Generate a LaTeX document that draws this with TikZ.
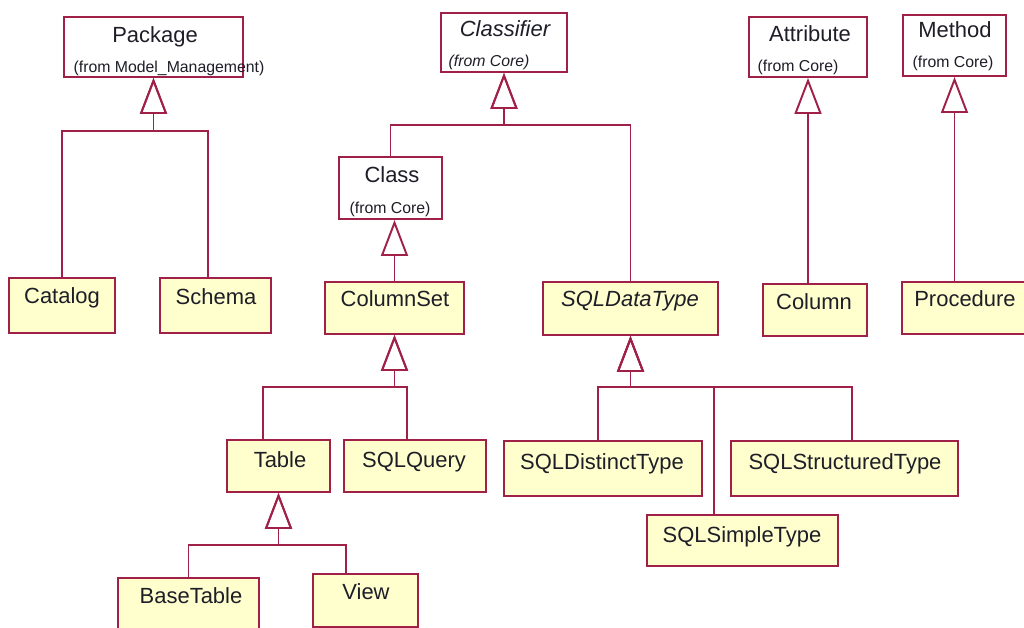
\documentclass[tikz,border=0pt]{standalone}
\usepackage{fontspec}
\setmainfont{Liberation Sans}
\usetikzlibrary{arrows.meta,fit}

\definecolor{umlline}{RGB}{160,32,72}
\definecolor{umlfill}{RGB}{255,255,206}
\definecolor{umltext}{RGB}{30,30,40}

\begin{document}
\begin{tikzpicture}[x=0.02cm,y=-0.02cm,
  classbox/.style={draw=umlline, line width=1.1pt, inner sep=0pt, fill=white, fit={#1}},
  entbox/.style={classbox={#1}, fill=umlfill},
  cname/.style={font=\fontsize{12.5}{15}\selectfont, text=umltext, anchor=base, inner sep=0pt},
  cfrom/.style={font=\fontsize{9}{11}\selectfont, text=umltext, anchor=base, inner sep=0pt},
  gen/.style={draw=umlline, line width=1.1pt,
    -{Triangle[open, length=0.72cm, width=0.54cm]}}]

\useasboundingbox (0,0) rectangle (1024,628);

% imported classes
\node[classbox={(64,17) (243,77)}]   (package) {};
\node[classbox={(441,13) (567,72)}]  (classifier) {};
\node[classbox={(749,17) (867,77)}]  (attribute) {};
\node[classbox={(903,15) (1006,76)}] (method) {};
\node[classbox={(339,157) (442,219)}] (class) {};

\node[cname] (package-label) at (155,43) {Package};
\node[cfrom] (package-from) at (169,73) {(from Model\_Management)};
\node[cname, font=\fontsize{12.5}{15}\selectfont\itshape] (classifier-label) at (505,37) {Classifier};
\node[cfrom, font=\fontsize{9}{11}\selectfont\itshape] (classifier-from) at (489,67) {(from Core)};
\node[cname] (attribute-label) at (810,42) {Attribute};
\node[cfrom] (attribute-from) at (798,72) {(from Core)};
\node[cname] (method-label) at (955,38) {Method};
\node[cfrom] (method-from) at (953,68) {(from Core)};
\node[cname] (class-label) at (392,183) {Class};
\node[cfrom] (class-from) at (390,214) {(from Core)};

% relational classes
\node[entbox={(9,278) (115,333)}]    (catalog) {};
\node[entbox={(160,278) (271,333)}]  (schema) {};
\node[entbox={(325,282) (464,334)}]  (columnset) {};
\node[entbox={(543,282) (718,335)}]  (sqldatatype) {};
\node[entbox={(763,284) (867,336)}]  (column) {};
\node[entbox={(902,282) (1030,334)}] (procedure) {};
\node[entbox={(227,440) (330,492)}]  (table) {};
\node[entbox={(344,440) (486,492)}]  (sqlquery) {};
\node[entbox={(504,441) (702,496)}]  (sqldistinct) {};
\node[entbox={(731,441) (958,496)}]  (sqlstructured) {};
\node[entbox={(647,515) (838,566)}]  (sqlsimple) {};
\node[entbox={(118,578) (259,650)}]  (basetable) {};
\node[entbox={(313,574) (418,627)}]  (view) {};

\node[cname] (catalog-label) at (62,303) {Catalog};
\node[cname] (schema-label) at (216,304) {Schema};
\node[cname] (columnset-label) at (395,306) {ColumnSet};
\node[cname, font=\fontsize{12.5}{15}\selectfont\itshape] (sqldatatype-label) at (630,306) {SQLDataType};
\node[cname] (column-label) at (814,309) {Column};
\node[cname] (procedure-label) at (965,306) {Procedure};
\node[cname] (table-label) at (280,467) {Table};
\node[cname] (sqlquery-label) at (414,467) {SQLQuery};
\node[cname] (sqldistinct-label) at (602,469) {SQLDistinctType};
\node[cname] (sqlstructured-label) at (845,469) {SQLStructuredType};
\node[cname] (sqlsimple-label) at (742,542) {SQLSimpleType};
\node[cname] (basetable-label) at (191,603) {BaseTable};
\node[cname] (view-label) at (366,599) {View};

% generalization junctions
\coordinate (pkgbar) at (153.5,131);
\coordinate (clsbar) at (504,125);
\coordinate (csbar)  at (394.5,387);
\coordinate (tblbar) at (278.5,545);
\coordinate (dtbar)  at (630.5,387);

% generalizations
\draw[gen] (catalog.north) |- (pkgbar) -- (package.south);
\draw[gen] ([xshift=-0.15cm]schema.north) |- (pkgbar) -- (package.south);

\draw[gen] (class.north) |- (clsbar) -- (classifier.south);
\draw[gen] (sqldatatype.north) |- (clsbar) -- (classifier.south);

\draw[gen] (columnset.north) -- (columnset.north |- class.south);

\draw[gen] (column.north -| attribute.south) -- (attribute.south);
\draw[gen] (procedure.north -| method.south) -- (method.south);

\draw[gen] ([xshift=-0.31cm]table.north) |- (csbar) -- (columnset.south);
\draw[gen] ([xshift=-0.16cm]sqlquery.north) |- (csbar) -- (columnset.south);

\draw[gen] (basetable.north) |- (tblbar) -- (table.south);
\draw[gen] ([xshift=-0.39cm]view.north) |- (tblbar) -- (table.south);

\draw[gen] ([xshift=-0.1cm]sqldistinct.north) |- (dtbar) -- (sqldatatype.south);
\draw[gen] ([xshift=-0.57cm]sqlsimple.north) |- (dtbar) -- (sqldatatype.south);
\draw[gen] ([xshift=0.15cm]sqlstructured.north) |- (dtbar) -- (sqldatatype.south);

\end{tikzpicture}
\end{document}
